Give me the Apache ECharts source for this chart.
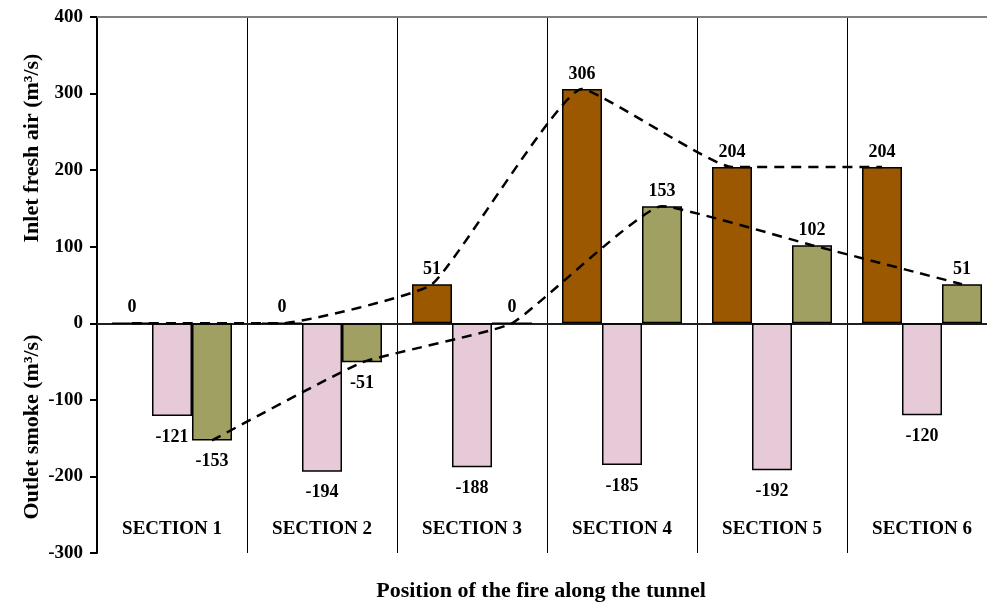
<!DOCTYPE html>
<html><head><meta charset="utf-8">
<script src="https://cdn.jsdelivr.net/npm/echarts@6/dist/echarts.min.js"></script>
<style>html,body{margin:0;padding:0;background:#fff;overflow:hidden}#c{width:1000px;height:603px}</style>
</head><body><div id="c"></div>
<script>
const categories = ['SECTION 1','SECTION 2','SECTION 3','SECTION 4','SECTION 5','SECTION 6'];
const inletCaseA = [0, 0, 51, 306, 204, 204];
const outletSmoke = [-121, -194, -188, -185, -192, -120];
const inletCaseB = [-153, -51, 0, 153, 102, 51];
const yTicks = [-300, -200, -100, 0, 100, 200, 300, 400];

const FONT = '"Liberation Serif","Times New Roman",serif';
const catGap = 0.2;               // barCategoryGap fraction
const barFrac = (1 - catGap) / 3; // each bar's share of a category
const offA = catGap / 2 + barFrac / 2;
const offB = catGap / 2 + barFrac * 2.5;

const chart = echarts.init(document.getElementById('c'));
const lbl = {fontFamily: FONT, fontWeight: 'bold', fontSize: 18, color: '#000'};

chart.setOption({
  animation: false,
  grid: {left: 97, top: 17, right: 3, bottom: 50},
  xAxis: [
    {type: 'category', data: categories, position: 'bottom',
     axisLine: {lineStyle: {color: '#808080', width: 2}}, axisTick: {show: false},
     axisLabel: {inside: true, margin: 14, fontFamily: FONT, fontWeight: 'bold', fontSize: 19, color: '#000'},
     splitLine: {show: true, lineStyle: {color: '#000', width: 1}}},
    {type: 'category', data: categories, position: 'top',
     axisLine: {lineStyle: {color: '#808080', width: 2}}, axisTick: {show: false}, axisLabel: {show: false}},
    {type: 'value', min: 0, max: 6, show: false}
  ],
  yAxis: {type: 'value', min: yTicks[0], max: yTicks[yTicks.length - 1], interval: 100,
    axisLine: {show: true, lineStyle: {color: '#000', width: 2}},
    axisTick: {show: true, length: 7, lineStyle: {color: '#000', width: 2}},
    axisLabel: {fontFamily: FONT, fontWeight: 'bold', fontSize: 19, color: '#000', margin: 14},
    splitLine: {show: false}},
  series: [
    {type: 'bar', data: inletCaseA, barGap: '0%', barCategoryGap: (catGap * 100) + '%',
     itemStyle: {color: '#9C5800', borderColor: '#000', borderWidth: 1.5},
     label: Object.assign({show: true, position: 'top', distance: 6}, lbl),
     markLine: {silent: true, symbol: 'none', label: {show: false},
       lineStyle: {color: '#000', width: 1.5, type: 'solid'}, data: [{yAxis: 0}]}},
    {type: 'bar', data: outletSmoke,
     itemStyle: {color: '#E6CAD8', borderColor: '#000', borderWidth: 1.5},
     label: Object.assign({show: true, position: 'bottom', distance: 12}, lbl)},
    {type: 'bar', data: inletCaseB.map(v => ({value: v,
       label: {position: v < 0 ? 'bottom' : 'top', distance: v < 0 ? 12 : 6}})),
     itemStyle: {color: '#A0A062', borderColor: '#000', borderWidth: 1.5},
     label: Object.assign({show: true}, lbl)},
    {type: 'line', xAxisIndex: 2, data: inletCaseA.map((v, i) => [i + offA, v]), smooth: 0.12,
     symbol: 'none', lineStyle: {color: '#000', width: 2.5, type: [10, 7]}, z: 5},
    {type: 'line', xAxisIndex: 2, data: inletCaseB.map((v, i) => [i + offB, v]), smooth: 0.12,
     symbol: 'none', lineStyle: {color: '#000', width: 2.5, type: [10, 7]}, z: 5}
  ],
  graphic: [
    {type: 'text', x: 541, y: 591, style: {text: 'Position of the fire along the tunnel',
      font: 'bold 22px ' + FONT, fill: '#000', align: 'center', verticalAlign: 'middle'}},
    {type: 'text', x: 32, y: 148, rotation: Math.PI / 2, style: {text: 'Inlet fresh air (m³/s)',
      font: 'bold 22px ' + FONT, fill: '#000', align: 'center', verticalAlign: 'middle'}},
    {type: 'text', x: 32, y: 427, rotation: Math.PI / 2, style: {text: 'Outlet smoke (m³/s)',
      font: 'bold 22px ' + FONT, fill: '#000', align: 'center', verticalAlign: 'middle'}}
  ]
});
</script></body></html>
